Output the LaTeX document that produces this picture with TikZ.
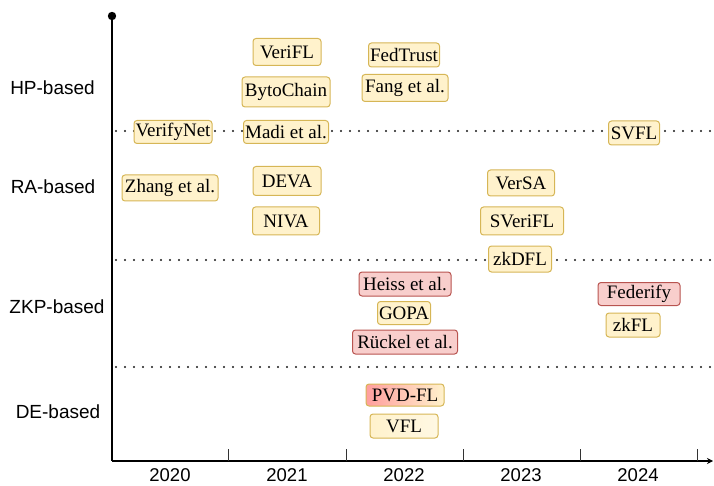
\documentclass[tikz,border=0pt]{standalone}
\usepackage{fontspec}
\setmainfont{Liberation Serif}
\newfontfamily\labelfont{Liberation Sans}
\usetikzlibrary{arrows.meta,shadings}
\definecolor{yfill}{HTML}{FFF2CC}
\definecolor{ydraw}{HTML}{D6B656}
\definecolor{rfill}{HTML}{F8CECC}
\definecolor{rdraw}{HTML}{B85450}
\definecolor{pvdleft}{HTML}{FF9E9E}
\definecolor{pvdmid}{HTML}{FFC8B5}
\pgfdeclarehorizontalshading{pvdshade}{100bp}{color(0bp)=(pvdleft); color(25bp)=(pvdleft); color(50bp)=(pvdmid); color(75bp)=(yfill); color(100bp)=(yfill)}
\pgfdeclarehorizontalshading{vflshade}{100bp}{color(0bp)=(yfill); color(25bp)=(yfill); color(75bp)=(yfill!55); color(100bp)=(yfill!55)}
\tikzset{
  ybox/.style={draw=ydraw, fill=yfill, line width=1pt, rounded corners=3pt, inner sep=0pt, font=\fontsize{19}{21}\selectfont},
  rbox/.style={draw=rdraw, fill=rfill, line width=1pt, rounded corners=3pt, inner sep=0pt, font=\fontsize{19}{21}\selectfont},
  catlabel/.style={font=\labelfont\fontsize{19}{21}\selectfont, inner sep=0pt},
  yearlabel/.style={font=\labelfont\fontsize{18.5}{20}\selectfont, inner sep=0pt},
  sep/.style={line width=2.1pt, line cap=round, dash pattern=on 0pt off 9pt, black!90},
  axis/.style={line width=1.2pt, black},
  tick/.style={line width=1pt, black!80},
}
\begin{document}
\begin{tikzpicture}[x=1pt,y=-1pt]
\useasboundingbox (0,0) rectangle (714,486);
% axes
\coordinate (top) at (112,16);
\coordinate (origin) at (112,461);
\coordinate (xend) at (713,461);
\fill (top) circle (4.2);
\draw[axis] (top) -- (origin);
\draw[axis, -{Stealth[length=6pt,width=6pt]}] (origin) -- (xend);
\foreach \x in {228,346,463,580,697} \draw[tick] (\x,461) -- (\x,449);
% separators
\coordinate (s1a) at (116,131); \coordinate (s1b) at (710,131);
\coordinate (s2a) at (116,260); \coordinate (s2b) at (710,260);
\coordinate (s3a) at (116,367); \coordinate (s3b) at (710,367);
\draw[sep] (s1a) -- (s1b);
\draw[sep] (s2a) -- (s2b);
\draw[sep] (s3a) -- (s3b);
% category labels
\node[catlabel] (hp) at (52.5,88) {HP-based};
\node[catlabel] (ra) at (53,187) {RA-based};
\node[catlabel] (zkp) at (57,307) {ZKP-based};
\node[catlabel] (de) at (58,412) {DE-based};
% year labels
\node[yearlabel] (y2020) at (170,475) {2020};
\node[yearlabel] (y2021) at (287,475) {2021};
\node[yearlabel] (y2022) at (404,475) {2022};
\node[yearlabel] (y2023) at (521,475) {2023};
\node[yearlabel] (y2024) at (638,475) {2024};
% HP-based
\node[ybox, minimum width=68pt, minimum height=27pt] (verifl) at (287,52) {VeriFL};
\node[ybox, minimum width=88pt, minimum height=30pt] (byto) at (286,92) {BytoChain};
\node[ybox, minimum width=71pt, minimum height=24pt] (fedtrust) at (404,55) {FedTrust};
\node[ybox, minimum width=86pt, minimum height=27pt] (fang) at (405,88) {Fang et al.};
% on line 1
\node[ybox, minimum width=78pt, minimum height=23pt] (verifynet) at (173,132) {VerifyNet};
\node[ybox, minimum width=85pt, minimum height=23pt] (madi) at (286,132) {Madi et al.};
\node[ybox, minimum width=51pt, minimum height=24pt] (svfl) at (634,133) {SVFL};
% RA-based
\node[ybox, minimum width=96pt, minimum height=26pt] (zhang) at (170,188) {Zhang et al.};
\node[ybox, minimum width=68pt, minimum height=29pt] (deva) at (287,181) {DEVA};
\node[ybox, minimum width=67pt, minimum height=28pt] (niva) at (286,221) {NIVA};
\node[ybox, minimum width=67pt, minimum height=26pt] (versa) at (521,183) {VerSA};
\node[ybox, minimum width=83pt, minimum height=28pt] (sverifl) at (522,221) {SVeriFL};
\node[ybox, minimum width=63pt, minimum height=26pt] (zkdfl) at (520,259) {zkDFL};
% ZKP-based
\node[rbox, minimum width=92pt, minimum height=24pt] (heiss) at (405,284) {Heiss et al.};
\node[ybox, minimum width=53pt, minimum height=23pt] (gopa) at (404,313) {GOPA};
\node[rbox, minimum width=105pt, minimum height=24pt] (ruckel) at (405,342) {Rückel et al.};
\node[rbox, minimum width=82pt, minimum height=23pt] (federify) at (639,294) {Federify};
\node[ybox, minimum width=54pt, minimum height=24pt] (zkfl) at (633,325) {zkFL};
% DE-based
\node[ybox, shading=pvdshade, minimum width=78pt, minimum height=22pt] (pvd) at (405,395) {PVD-FL};
\node[ybox, shading=vflshade, minimum width=68pt, minimum height=24pt] (vfl) at (404,426) {VFL};
\end{tikzpicture}
\end{document}
